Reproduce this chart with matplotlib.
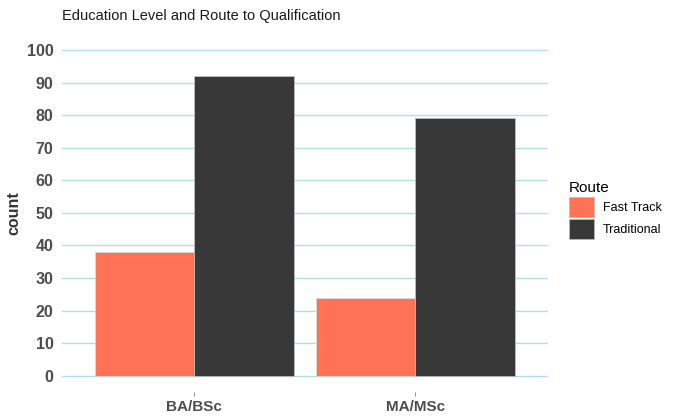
import numpy as np
import matplotlib
matplotlib.use("Agg")
import matplotlib.pyplot as plt
from matplotlib.patches import Patch

plt.rcParams['font.family'] = ['Liberation Sans', 'DejaVu Sans']

# data
levels = ['BA/BSc', 'MA/MSc']
routes = ['Fast Track', 'Traditional']
fast_track = [38, 24]
traditional = [92, 79]
route_colors = ['#FF7256', '#383838']
y_ticks = list(range(0, 101, 10))

fig = plt.figure(figsize=(6.73, 4.17), dpi=100)
ax = fig.add_axes([0.092, 0.06, 0.722, 0.859])

x = np.arange(1, len(levels) + 1)
w = 0.45
ax.bar(x - w / 2, fast_track, width=w, color=route_colors[0],
       edgecolor='#d9d9d9', linewidth=0.6, zorder=3)
ax.bar(x + w / 2, traditional, width=w, color=route_colors[1],
       edgecolor='#bdbdbd', linewidth=0.6, zorder=3)

ax.set_xlim(0.4, 2.6)
ax.set_ylim(-5, 105)
ax.set_yticks(y_ticks)
ax.set_xticks(x)
ax.set_xticklabels(levels)

for yv in y_ticks:
    ax.axhline(yv, color='#b0e0e6', linewidth=1.0, zorder=1)

for s in ax.spines.values():
    s.set_visible(False)
ax.tick_params(axis='y', length=0, pad=6, labelsize=11.5, labelcolor='#4d4d4d')
ax.tick_params(axis='x', length=3, width=0.6, color='#7f7f7f', pad=3,
               labelsize=11, labelcolor='#4d4d4d')
for lab in ax.get_xticklabels() + ax.get_yticklabels():
    lab.set_fontweight('bold')

ax.set_ylabel('count', fontsize=11.5, fontweight='bold', color='#333333', labelpad=4)
fig.text(0.092, 0.945, 'Education Level and Route to Qualification',
         fontsize=10.5, color='#1a1a1a', va='bottom')

handles = [Patch(facecolor=c, edgecolor='#bdbdbd', linewidth=0.5) for c in route_colors]
leg = fig.legend(handles, routes, title='Route', loc='upper left',
                 bbox_to_anchor=(0.838, 0.578), frameon=False,
                 fontsize=9, title_fontsize=11, handlelength=2.0, handleheight=2.1,
                 handletextpad=0.7, labelspacing=0.15, borderaxespad=0)
leg._legend_box.align = 'left'

fig.savefig('out.png', dpi=100)
